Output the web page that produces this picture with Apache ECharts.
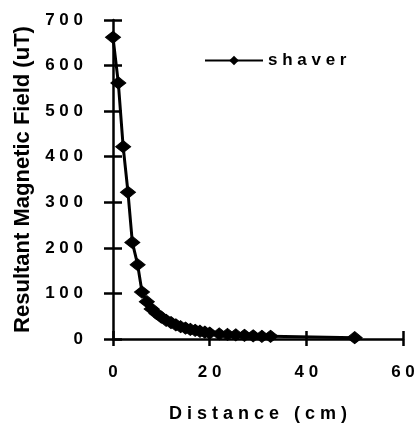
<!DOCTYPE html>
<html>
<head>
<meta charset="utf-8">
<script src="https://cdn.jsdelivr.net/npm/echarts@6/dist/echarts.min.js"></script>
<style>
html,body{margin:0;padding:0;background:#fff;}
#chart{width:418px;height:428px;}
</style>
</head>
<body>
<div id="chart"></div>
<script>
// Data
var distance = [0, 1.1, 2.1, 3.1, 4, 5.1, 6, 7, 8, 9, 10, 11, 12, 13, 14, 15, 16, 17, 18, 19, 20, 22, 23.7, 25.4, 27.2, 29, 30.8, 32.6, 50];
var shaver   = [662, 562, 422, 322, 212, 163, 103, 82, 66, 56, 48, 41, 36, 31, 27, 24, 21, 19, 17, 15, 13, 11, 10, 9, 8, 7, 6, 6, 3];
var seriesName = 'shaver';
var xTitle = 'Distance (cm)';
var yTitle = 'Resultant Magnetic Field (uT)';
var xTicks = [0, 20, 40, 60];
var yTicks = [0, 100, 200, 300, 400, 500, 600, 700];

function spread(s, sep) { return String(s).split('').join(sep); }
var FONT = '"Liberation Sans", Arial, Helvetica, sans-serif';
var SP = ' ';

var chart = echarts.init(document.getElementById('chart'), null, {renderer: 'canvas'});
var axisCommonX = {
  type: 'value', min: xTicks[0], max: xTicks[xTicks.length - 1], interval: 20,
  splitLine: {show: false}
};
var axisCommonY = {
  type: 'value', min: yTicks[0], max: yTicks[yTicks.length - 1], interval: 100,
  splitLine: {show: false}
};
chart.setOption({
  animation: false,
  backgroundColor: '#fff',
  grid: {left: 113, right: 15, top: 20, bottom: 82, containLabel: false},
  legend: {
    data: [seriesName],
    left: 199, top: 47,
    itemWidth: 58, itemHeight: 12, itemGap: 6,
    formatter: function (n) { return spread(n, SP); },
    textStyle: {fontFamily: FONT, fontWeight: 'bold', fontSize: 17, color: '#000'}
  },
  xAxis: [
    Object.assign({}, axisCommonX, {
      position: 'bottom',
      name: spread(xTitle, SP),
      nameLocation: 'middle', nameGap: 66,
      nameTextStyle: {fontFamily: FONT, fontWeight: 'bold', fontSize: 18, color: '#000'},
      axisLine: {show: true, lineStyle: {color: '#000', width: 2.5}},
      axisTick: {show: true, inside: false, length: 7, lineStyle: {color: '#000', width: 2.5}},
      axisLabel: {margin: 25, fontFamily: FONT, fontWeight: 'bold', fontSize: 17, color: '#000',
        formatter: function (v) { return spread(v, SP); }}
    }),
    Object.assign({}, axisCommonX, {
      position: 'bottom',
      axisLine: {show: false},
      axisTick: {show: true, inside: true, length: 8, lineStyle: {color: '#000', width: 2.5}},
      axisLabel: {show: false}
    })
  ],
  yAxis: [
    Object.assign({}, axisCommonY, {
      position: 'left',
      name: yTitle,
      nameLocation: 'middle', nameGap: 78,
      nameTextStyle: {fontFamily: FONT, fontWeight: 'bold', fontSize: 22, color: '#000'},
      axisLine: {show: true, lineStyle: {color: '#000', width: 2.5}},
      axisTick: {show: true, inside: false, length: 9, lineStyle: {color: '#000', width: 2.5}},
      axisLabel: {margin: 30, fontFamily: FONT, fontWeight: 'bold', fontSize: 17, color: '#000',
        formatter: function (v) { return spread(v, SP); }}
    }),
    Object.assign({}, axisCommonY, {
      position: 'left',
      axisLine: {show: false},
      axisTick: {show: true, inside: true, length: 9, lineStyle: {color: '#000', width: 2.5}},
      axisLabel: {show: false}
    })
  ],
  series: [{
    name: seriesName,
    type: 'line',
    xAxisIndex: 0, yAxisIndex: 0,
    data: distance.map(function (d, i) { return [d, shaver[i]]; }),
    symbol: 'diamond',
    symbolSize: [15, 12],
    showAllSymbol: true,
    lineStyle: {color: '#000', width: 3},
    itemStyle: {color: '#000', borderColor: '#000'}
  }]
});
</script>
</body>
</html>
